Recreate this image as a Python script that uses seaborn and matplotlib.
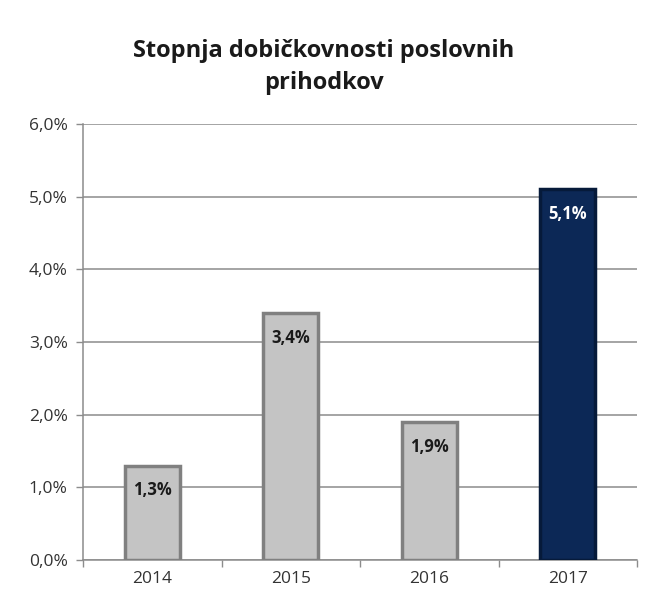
import numpy as np
import pandas as pd
import matplotlib
matplotlib.use("Agg")
import matplotlib.pyplot as plt
import seaborn as sns

# Podatki
leta = ["2014", "2015", "2016", "2017"]
stopnja = [1.3, 3.4, 1.9, 5.1]
oznake = ["1,3%", "3,4%", "1,9%", "5,1%"]
barve = ["#c4c4c4", "#c4c4c4", "#c4c4c4", "#0c2856"]
robovi = ["#808080", "#808080", "#808080", "#061a3a"]
y_ticks = [0, 1, 2, 3, 4, 5, 6]
y_labels = ["0,0%", "1,0%", "2,0%", "3,0%", "4,0%", "5,0%", "6,0%"]

df = pd.DataFrame({"leto": leta, "stopnja": stopnja})

sns.set_theme(style="white")
plt.rcParams["font.family"] = ["Open Sans", "DejaVu Sans"]

fig = plt.figure(figsize=(6.48, 6.05), dpi=100)
ax = fig.add_axes([83 / 648, 45 / 605, 554 / 648, 436 / 605])

sns.barplot(data=df, x="leto", y="stopnja", hue="leto", palette=barve,
            width=0.4, saturation=1, legend=False, ax=ax, zorder=3)

for patch, ec in zip(ax.patches, robovi):
    patch.set_edgecolor(ec)
    patch.set_linewidth(2.5)

for i, (v, t) in enumerate(zip(stopnja, oznake)):
    c = "white" if i == 3 else "#1a1a1a"
    ax.text(i, v - 0.34, t, ha="center", va="center", fontsize=12,
            fontweight="bold", color=c, zorder=4)

ax.set_ylim(0, 6)
ax.set_xlim(-0.5, 3.5)
ax.set_yticks(y_ticks)
ax.set_yticklabels(y_labels)
ax.yaxis.grid(True, color="#8c8c8c", linewidth=1.1, zorder=0)
ax.xaxis.grid(False)

# oznake na x osi med kategorijami
ax.set_xticks([-0.5, 0.5, 1.5, 2.5, 3.5], minor=True)
ax.tick_params(axis="x", which="minor", length=5, color="#8c8c8c", width=1, bottom=True)
ax.tick_params(axis="x", which="major", length=0, labelsize=12.5, colors="#333333", pad=8)
ax.tick_params(axis="y", length=5, color="#8c8c8c", width=1, left=True,
               labelsize=12.5, labelcolor="#333333", pad=6)

for s in ["top", "right"]:
    ax.spines[s].set_visible(False)
for s in ["left", "bottom"]:
    ax.spines[s].set_color("#8c8c8c")
    ax.spines[s].set_linewidth(1.1)

ax.set_xlabel("")
ax.set_ylabel("")

fig.suptitle("Stopnja dobičkovnosti poslovnih\nprihodkov", x=0.5, y=0.935,
             fontsize=17, fontweight="bold", color="#1a1a1a", linespacing=1.45)

fig.savefig("out.png", dpi=100, facecolor="white")
